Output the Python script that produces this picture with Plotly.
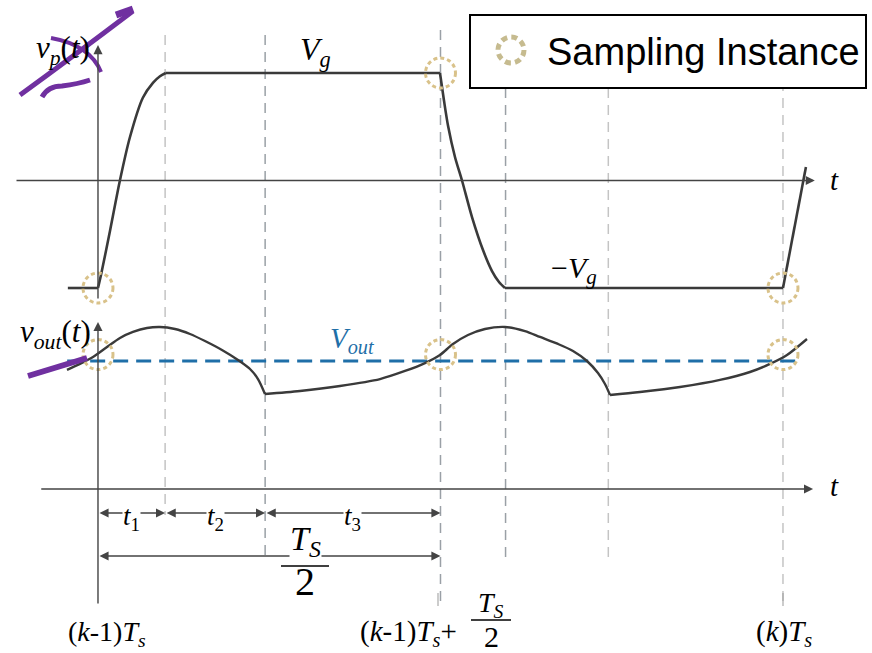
import plotly.graph_objects as go

# ---------------- data (time in units of Ts/2, voltages normalised) ----------------
t_vp = [-0.088, 0.0, 0.0088, 0.035, 0.064, 0.093, 0.131, 0.161, 0.181, 0.198,
        0.9985, 1.0102, 1.0219, 1.0423, 1.0628, 1.092, 1.1241, 1.1504, 1.1708, 1.1883,
        2.0, 2.067]
v_vp = [-1.0, -1.0, -0.879, -0.47, 0.0, 0.40, 0.77, 0.91, 0.97, 1.0,
        1.0, 0.744, 0.512, 0.219, 0.0, -0.34, -0.647, -0.842, -0.944, -1.0,
        -1.0, 0.126]
vp_corners = [0, 1, 9, 10, 19, 20, 21]          # indices where the waveform has a corner

t_out = [-0.0905, -0.0526, -0.0146, 0.0263, 0.0642, 0.1022, 0.1431, 0.181, 0.2248,
         0.2686, 0.3124, 0.362, 0.4088, 0.4438, 0.4672, 0.4876,
         0.5898, 0.7066, 0.8234, 0.8964, 0.9547, 0.9985, 1.0365, 1.0803, 1.1299,
         1.1883, 1.2467, 1.2905, 1.3431, 1.3869, 1.4277, 1.4599, 1.4803, 1.4949,
         1.5825, 1.6993, 1.8161, 1.9036, 1.962, 2.0117, 2.0701]
v_out = [0.930, 0.977, 1.031, 1.109, 1.180, 1.227, 1.258, 1.266, 1.250,
         1.211, 1.156, 1.086, 1.008, 0.9375, 0.859, 0.742,
         0.766, 0.805, 0.859, 0.922, 0.984, 1.047, 1.133, 1.203, 1.250,
         1.266, 1.234, 1.188, 1.133, 1.078, 1.0, 0.906, 0.820, 0.734,
         0.758, 0.797, 0.852, 0.914, 0.977, 1.047, 1.172]
out_corners = [0, 15, 33, 40]

V_OUT = 1.0
vout_span = [-0.09, 2.056]

sample_t = [0.0, 1.0, 2.0]
sample_vp = [-1.0, 1.0, -1.0]
sample_vout = [1.05, 1.05, 1.05]

edges = [0.196, 0.488, 1.0, 1.19, 1.49, 2.0]   # t1, t1+t2, Ts/2, ...

# ---------------- geometry helpers (layout only) ----------------
W, H = 872, 653
def px(x):
    return x / W
def py(y):
    return 1 - y / H

SERIF = "Liberation Serif"
INK = "#3a3a3a"
fig = go.Figure()

def add_segments(ts, vs, corners, yaxis, width):
    for a, b in zip(corners[:-1], corners[1:]):
        fig.add_trace(go.Scatter(x=ts[a:b + 1], y=vs[a:b + 1], mode="lines", yaxis=yaxis,
                                 line=dict(color=INK, width=width, shape="spline",
                                           smoothing=0.8),
                                 hoverinfo="skip"))

add_segments(t_vp, v_vp, vp_corners, "y", 2.6)
fig.add_trace(go.Scatter(x=vout_span, y=[V_OUT, V_OUT], mode="lines", yaxis="y2",
                         line=dict(color="#1f6fa8", width=3.2, dash="15px,8px"),
                         hoverinfo="skip"))
add_segments(t_out, v_out, out_corners, "y2", 2.4)

shapes = []
# dashed verticals
ext = [(35, 515), (35, 560), (30, 605), (88, 560), (88, 560), (30, 605)]
cols = ["#c4c4c4", "#9aa0a6", "#9aa0a6", "#9aa0a6", "#c4c4c4", "#c4c4c4"]
for e, (a, b), c in zip(edges, ext, cols):
    shapes.append(dict(type="line", xref="x", yref="paper", x0=e, x1=e,
                       y0=py(a), y1=py(b), line=dict(color=c, width=1.5, dash="10px,7px"),
                       layer="below"))

# sampling circles
R = 15
for tt, vv in zip(sample_t, sample_vp):
    shapes.append(dict(type="circle", xref="x", yref="y", xsizemode="pixel",
                       ysizemode="pixel", xanchor=tt, yanchor=vv,
                       x0=-R, x1=R, y0=-R, y1=R,
                       line=dict(color="#d9c28a", width=3, dash="4px,3px")))
for tt, vv in zip(sample_t, sample_vout):
    shapes.append(dict(type="circle", xref="x", yref="y2", xsizemode="pixel",
                       ysizemode="pixel", xanchor=tt, yanchor=vv,
                       x0=-R, x1=R, y0=-R, y1=R,
                       line=dict(color="#d9c28a", width=3, dash="4px,3px")))

# legend box
shapes.append(dict(type="rect", xref="paper", yref="paper", x0=px(470), x1=px(866),
                   y0=py(88), y1=py(15), fillcolor="white",
                   line=dict(color="black", width=2)))
shapes.append(dict(type="circle", xref="paper", yref="paper", x0=px(498), x1=px(524),
                   y0=py(63), y1=py(37),
                   line=dict(color="#c6bb8f", width=5, dash="6px,4.2px")))

# fraction bars
shapes.append(dict(type="line", xref="paper", yref="paper", x0=px(281), x1=px(329),
                   y0=py(566), y1=py(566), line=dict(color="black", width=1.3)))
shapes.append(dict(type="line", xref="paper", yref="paper", x0=px(471), x1=px(511),
                   y0=py(620), y1=py(620), line=dict(color="black", width=1.3)))
# small ticks at the bottom
for xx in (438, 783):
    shapes.append(dict(type="line", xref="paper", yref="paper", x0=px(xx), x1=px(xx),
                       y0=py(593), y1=py(606), line=dict(color="#999", width=1)))

# purple scribbles
PUR = "#7030a0"
def path(pts, cmd):
    return cmd.format(*[v for p in pts for v in (px(p[0]), py(p[1]))])
shapes.append(dict(type="path", xref="paper", yref="paper",
                   path=path([(20, 95), (75, 55), (133, 11)], "M {} {} Q {} {} {} {}"),
                   line=dict(color=PUR, width=5)))
shapes.append(dict(type="path", xref="paper", yref="paper",
                   path=path([(116, 15), (133, 9)], "M {} {} L {} {}"),
                   line=dict(color=PUR, width=7)))
shapes.append(dict(type="path", xref="paper", yref="paper",
                   path=path([(51, 38), (90, 45), (101, 72)], "M {} {} Q {} {} {} {}"),
                   line=dict(color=PUR, width=4)))
shapes.append(dict(type="path", xref="paper", yref="paper",
                   path=path([(42, 97), (48, 86), (62, 86), (78, 84), (90, 80)],
                             "M {} {} Q {} {} {} {} Q {} {} {} {}"),
                   line=dict(color=PUR, width=5)))
shapes.append(dict(type="path", xref="paper", yref="paper",
                   path=path([(28, 376), (87, 358)], "M {} {} L {} {}"),
                   line=dict(color=PUR, width=6)))

ann = []
AX = "#444"
def arrow(x, y, ax, ay, yref, both=False):
    ann.append(dict(x=x, y=y, ax=ax, ay=ay, xref="x", yref=yref, axref="x", ayref=yref,
                    text="", showarrow=True, arrowhead=2, arrowsize=1.3, arrowwidth=1.4,
                    arrowcolor=AX, standoff=0, startstandoff=0,
                    arrowside="end+start" if both else "end", startarrowhead=2,
                    startarrowsize=1.3))

# axes (t in Ts/2 units; top y in Vg units; bottom y in Vout units)
arrow(2.093, 0, -0.2423, 0, "y")
arrow(2.088, 0, -0.170, 0, "y2")
arrow(0, 1.26, 0, -1.112, "y")
arrow(0, 1.305, 0, -0.906, "y2")
# interval arrows
arrow(edges[0], -0.1875, 0, -0.1875, "y2", both=True)
arrow(edges[1], -0.1875, edges[0], -0.1875, "y2", both=True)
arrow(edges[2], -0.1875, edges[1], -0.1875, "y2", both=True)
arrow(edges[2], -0.523, 0, -0.523, "y2", both=True)

def label(x, y, text, size=28, color="black", bg=None, family=SERIF, anchor="center"):
    d = dict(x=px(x), y=py(y), xref="paper", yref="paper", text=text, showarrow=False,
             xanchor=anchor, yanchor="middle", font=dict(family=family, size=size, color=color))
    if bg:
        d["bgcolor"] = bg
        d["borderpad"] = 0
    ann.append(d)

label(63, 50, "<i>v</i><sub><i>p</i></sub>(<i>t</i>)", 31)
label(315, 52, "<i>V</i><sub><i>g</i></sub>", 32)
label(574, 270, "−<i>V</i><sub><i>g</i></sub>", 30)
label(55, 334, "<i>v</i><sub><i>out</i></sub>(<i>t</i>)", 31)
label(352, 340, "<i>V</i><sub><i>out</i></sub>", 29, color="#1f6fa8")
label(834, 180, "<i>t</i>", 29)
label(834, 486, "<i>t</i>", 29)
label(131, 518, "<i>t</i><sub>1</sub>", 27, bg="white")
label(215, 518, "<i>t</i><sub>2</sub>", 27, bg="white")
label(352, 518, "<i>t</i><sub>3</sub>", 27, bg="white")
label(305, 541, "<i>T</i><sub><i>S</i></sub>", 34, bg="white")
label(305, 581, "2", 40)
label(107, 633, "(<i>k</i>-1)<i>T</i><sub><i>s</i></sub>", 28)
label(408, 633, "(<i>k</i>-1)<i>T</i><sub><i>s</i></sub>+", 29)
label(491, 604, "<i>T</i><sub><i>S</i></sub>", 28)
label(491, 636, "2", 30)
label(784, 633, "(<i>k</i>)<i>T</i><sub><i>s</i></sub>", 29)
label(545, 52, "Sampling Instance", 38, family="Liberation Sans", anchor="left")

fig.update_layout(
    width=W, height=H, margin=dict(l=0, r=0, t=0, b=0),
    paper_bgcolor="white", plot_bgcolor="white", showlegend=False,
    xaxis=dict(range=[-0.2861, 2.2599], visible=False, fixedrange=True),
    yaxis=dict(range=[-4.395, 1.679], visible=False, fixedrange=True),
    yaxis2=dict(range=[-1.281, 3.820], visible=False, overlaying="y", fixedrange=True),
    shapes=shapes, annotations=ann,
)
fig.write_html("out.html", config={"displayModeBar": False},
               post_script="document.body.style.margin='0';document.body.style.overflow='hidden';")
